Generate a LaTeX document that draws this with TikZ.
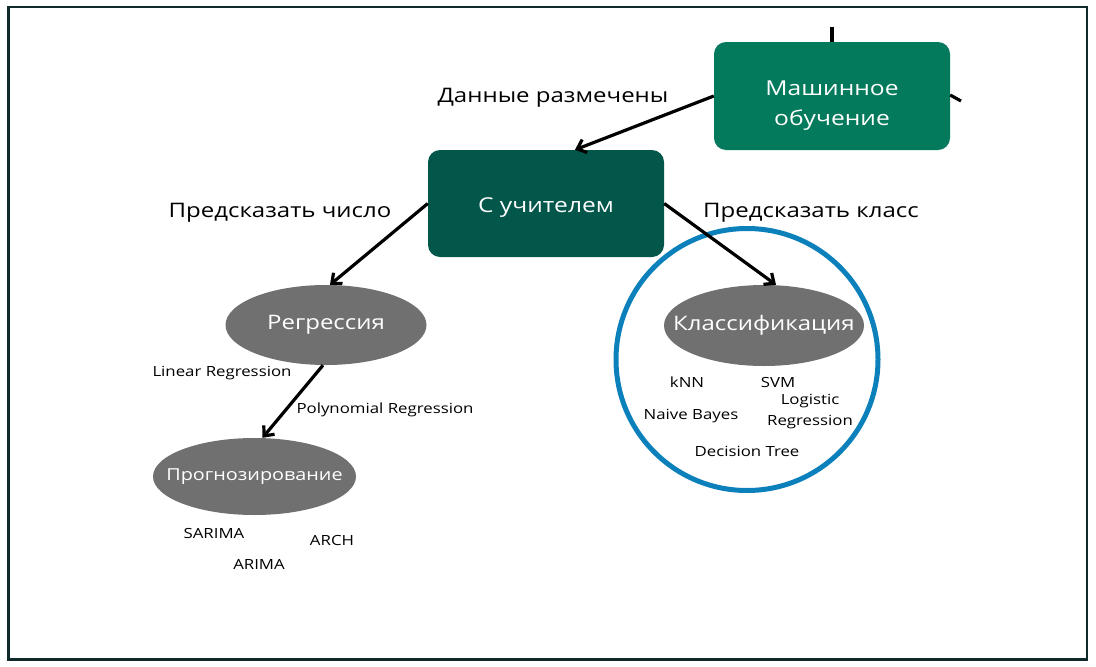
\documentclass[tikz,border=0pt]{standalone}
\usepackage{fontspec}
\setmainfont[FakeStretch=1.2]{Open Sans}
\usetikzlibrary{arrows.meta,positioning,calc,shapes.geometric}
\definecolor{mlgreen}{HTML}{037A5C}
\definecolor{supgreen}{HTML}{02564A}
\definecolor{ovalgray}{HTML}{707070}
\definecolor{ringblue}{HTML}{0C80BA}
\definecolor{framedark}{HTML}{102A2A}

\begin{document}
\begin{tikzpicture}[x=1pt,y=-1pt,
  box/.style={rounded corners=12pt,minimum width=236pt,minimum height=107pt},
  boxtext/.style={text=white,align=center,font=\fontsize{20.5}{30}\selectfont},
  oval/.style={ellipse,fill=ovalgray,inner sep=0pt},
  ovaltext/.style={text=white,font=\fontsize{20}{24}\selectfont},
  lbl/.style={font=\fontsize{20}{24}\selectfont},
  alg/.style={align=center,font=\fontsize{14}{18}\selectfont},
  arr/.style={-{Straight Barb[length=8pt,width=14pt]},line width=3.2pt},
  stub/.style={line width=3.2pt}]
\useasboundingbox (0,0) rectangle (1096,667);
\draw[framedark,line width=2.5pt] (8.5,7) rectangle (1087,659.5);

% boxes
\node[box,fill=mlgreen,minimum height=108pt,
  label={[boxtext,yshift=-10pt]center:Машинное\\обучение}] (ML) at (832,96) {};
\node[box,fill=supgreen,
  label={[boxtext,yshift=-4pt]center:С учителем}] (SUP) at (546,203.5) {};

% ovals
\node[oval,minimum width=201pt,minimum height=80pt,
  label={[ovaltext]center:Регрессия}] (REG) at (326,325) {};
\node[oval,minimum width=200pt,minimum height=81pt,
  label={[ovaltext]center:Классификация}] (CLS) at (764,325.5) {};
\node[oval,minimum width=203pt,minimum height=77pt,
  label={[ovaltext,font=\fontsize{16.5}{20}\selectfont]center:Прогнозирование}] (FOR) at (254.5,476.5) {};

\draw[ringblue,line width=5pt] (747,359.5) circle (131pt);

% branch labels
\node[lbl] (L1) at (553,98) {Данные размечены};
\node[lbl] (L2) at (280,213) {Предсказать число};
\node[lbl] (L3) at (811,213) {Предсказать класс};

% algorithms
\node[alg] (LR) at (222,373) {Linear Regression};
\node[alg] (PR) at (385,410) {Polynomial Regression};
\node[alg] (KNN) at (687,382) {kNN};
\node[alg] (SVM) at (778,382) {SVM};
\node[alg,font=\fontsize{14}{21}\selectfont] (LOG) at (810,412) {Logistic\\Regression};
\node[alg] (NB) at (691,416) {Naive Bayes};
\node[alg] (DT) at (747,451) {Decision Tree};
\node[alg] (SAR) at (214,533) {SARIMA};
\node[alg] (ARCH) at (332,540) {ARCH};
\node[alg] (ARI) at (259,564) {ARIMA};

% connectors
\coordinate (up) at (832,27);
\coordinate (right) at (961,101);
\draw[stub] (ML.north) -- (up);
\draw[stub] (ML.east) ++(0,-1) -- (right);
\draw[arr] (ML.west) -- ($(SUP.north)+(29,0)$);
\draw[arr] (SUP.west) -- ($(REG.north)+(4,0)$);
\draw[arr] (SUP.east) -- ($(CLS.north)+(12,0)$);
\draw[arr] ($(REG.south)+(-3,0)$) -- ($(FOR.north)+(8,0)$);
\end{tikzpicture}
\end{document}
